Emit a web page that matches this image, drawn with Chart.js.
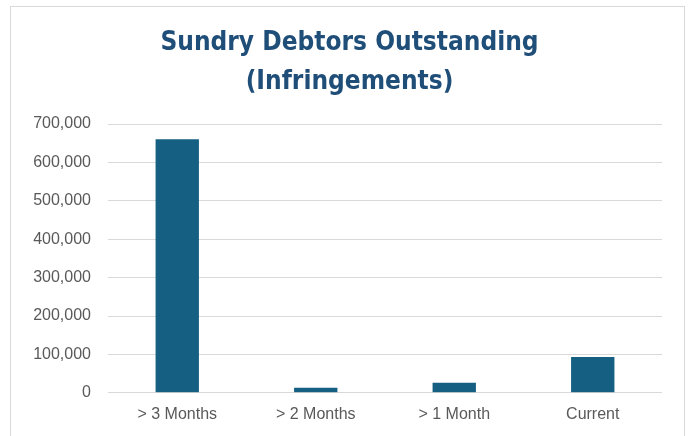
<!DOCTYPE html>
<html lang="en">
<head>
    <meta charset="UTF-8">
    <title>Sundry Debtors Outstanding</title>
    <script src="https://cdn.jsdelivr.net/npm/chart.js"></script>
    <style>
        body {
            margin: 0;
            background: #ffffff;
            width: 689px;
            height: 436px;
            overflow: hidden;
            position: relative;
        }

        #frame {
            position: absolute;
            left: 10px;
            top: 6px;
            width: 673px;
            height: 450px;
            border: 1px solid #d9d9d9;
        }

        #debtorsChart {
            position: absolute;
            left: 0;
            top: 0;
        }
    </style>
</head>
<body>
    <div id="frame"></div>
    <canvas id="debtorsChart" width="689" height="436"></canvas>

    <script>
        // Outstanding infringement debtors by age bracket
        const categories = ['> 3 Months', '> 2 Months', '> 1 Month', 'Current'];
        const outstanding = [660000, 13000, 26000, 93000];
        const titleLines = ['Sundry Debtors Outstanding', '(Infringements)'];

        // centre the title over the frame rather than the whole canvas
        const titleShift = {
            id: 'titleShift',
            afterLayout(chart) {
                const t = chart.titleBlock;
                if (t) {
                    t.left = 37;
                    t.right = 662;
                }
            }
        };

        const ctx = document.getElementById('debtorsChart').getContext('2d');
        const debtorsChart = new Chart(ctx, {
            type: 'bar',
            data: {
                labels: categories,
                datasets: [{
                    label: 'Outstanding',
                    data: outstanding,
                    backgroundColor: '#156082',
                    borderWidth: 0,
                    categoryPercentage: 1,
                    barPercentage: 0.313
                }]
            },
            plugins: [titleShift],
            options: {
                responsive: false,
                animation: false,
                layout: {
                    padding: { left: 0, right: 27, top: 0, bottom: 0 }
                },
                plugins: {
                    legend: { display: false },
                    tooltip: { enabled: false },
                    title: {
                        display: true,
                        text: titleLines,
                        color: '#1F4E79',
                        font: { family: '"DejaVu Sans Condensed", sans-serif', size: 26, weight: 'bold', lineHeight: 1.5 },
                        padding: { top: 24, bottom: 22 }
                    }
                },
                scales: {
                    x: {
                        grid: { display: false, drawTicks: false },
                        border: { display: false },
                        ticks: {
                            color: '#595959',
                            font: { family: '"Liberation Sans", Arial, sans-serif', size: 16 },
                            padding: 12,
                            maxRotation: 0
                        }
                    },
                    y: {
                        min: 0,
                        max: 700000,
                        afterFit: function (scale) {
                            scale.width = 108;
                        },
                        grid: { color: '#d9d9d9', lineWidth: 1, drawTicks: false },
                        border: { display: false },
                        ticks: {
                            stepSize: 100000,
                            color: '#595959',
                            font: { family: '"Liberation Sans", Arial, sans-serif', size: 16 },
                            padding: 17,
                            callback: value => value.toLocaleString('en-US')
                        }
                    }
                }
            }
        });
    </script>
</body>
</html>
